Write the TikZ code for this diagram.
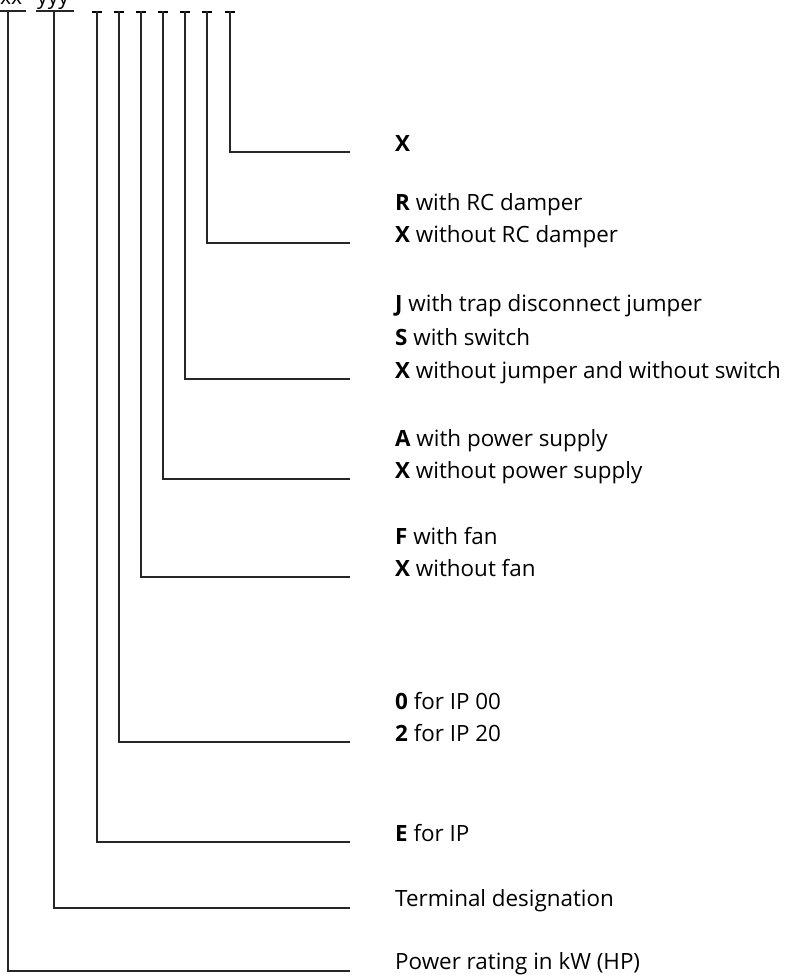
\documentclass[tikz,border=0pt]{standalone}
\usepackage{fontspec}
\setmainfont{Open Sans}
\begin{document}
\begin{tikzpicture}[x=1pt,y=-1pt,
  ln/.style={line width=1.2pt,black!85},
  bar/.style={line width=2pt,black},
  lbl/.style={anchor=base west,inner sep=0pt,font=\fontsize{22.4}{26}\selectfont},
  top/.style={anchor=base west,inner sep=0pt,font=\fontsize{21}{24}\selectfont}]
\useasboundingbox (0,0) rectangle (788,975);
% top code letters
\node[top] (xx) at (0,4) {xx};
\node[top] (yy) at (37,4) {yyy};
\draw[ln] (0,11) -- (26,11);
\draw[ln] (36,11) -- (74,11);
% bars
\foreach \x in {97,119,141,163,185,207,230}{\draw[bar] (\x-5,11.5) -- (\x+5,11.5);}
% connectors
\coordinate (e1) at (350,152);
\coordinate (e2) at (350,243);
\coordinate (e3) at (350,379);
\coordinate (e4) at (350,479);
\coordinate (e5) at (350,577);
\coordinate (e6) at (350,742);
\coordinate (e7) at (350,842);
\coordinate (e8) at (350,908);
\coordinate (e9) at (350,971);
\coordinate (s1) at (230,11);
\coordinate (s2) at (207,11);
\coordinate (s3) at (185,11);
\coordinate (s4) at (163,11);
\coordinate (s5) at (141,11);
\coordinate (s6) at (119,11);
\coordinate (s7) at (97,11);
\coordinate (s8) at (54,11);
\coordinate (s9) at (8,11);
\foreach \i in {1,...,9}{\draw[ln] (s\i) |- (e\i);}
% labels
\node[lbl] (t1) at (395,151) {\textbf{X}};
\node[lbl] (t2a) at (395,210) {\textbf{R} with RC damper};
\node[lbl] (t2b) at (395,242) {\textbf{X} without RC damper};
\node[lbl] (t3a) at (395,311) {\textbf{J} with trap disconnect jumper};
\node[lbl] (t3b) at (395,345) {\textbf{S} with switch};
\node[lbl] (t3c) at (395,378) {\textbf{X} without jumper and without switch};
\node[lbl] (t4a) at (395,446) {\textbf{A} with power supply};
\node[lbl] (t4b) at (395,478) {\textbf{X} without power supply};
\node[lbl] (t5a) at (395,544) {\textbf{F} with fan};
\node[lbl] (t5b) at (395,576) {\textbf{X} without fan};
\node[lbl] (t6a) at (395,709) {\textbf{0} for IP 00};
\node[lbl] (t6b) at (395,741) {\textbf{2} for IP 20};
\node[lbl] (t7) at (395,841) {\textbf{E} for IP};
\node[lbl] (t8) at (395,906) {Terminal designation};
\node[lbl] (t9) at (395,969) {Power rating in kW (HP)};
\end{tikzpicture}
\end{document}
